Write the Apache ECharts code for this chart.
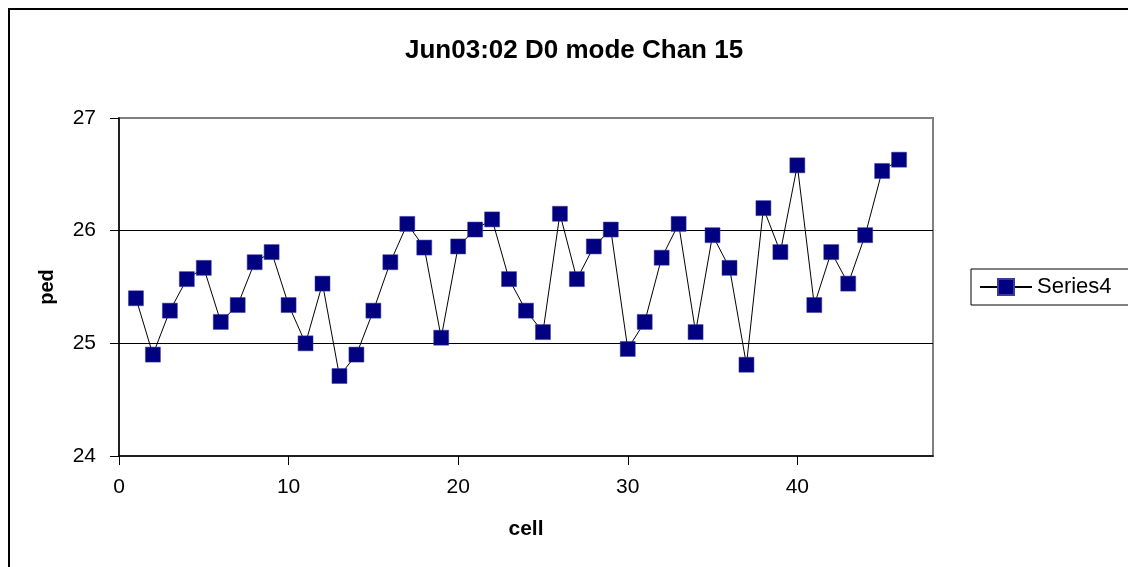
<!DOCTYPE html>
<html>
<head>
<meta charset="utf-8">
<script src="https://cdn.jsdelivr.net/npm/echarts@6/dist/echarts.min.js"></script>
<style>html,body{margin:0;padding:0;background:#fff;}#c{width:1128px;height:567px;}</style>
</head>
<body>
<div id="c"></div>
<script>
const titleText = 'Jun03:02 D0 mode Chan 15';
const seriesName = 'Series4';
const cells = [1,2,3,4,5,6,7,8,9,10,11,12,13,14,15,16,17,18,19,20,21,22,23,24,25,26,27,28,29,30,31,32,33,34,35,36,37,38,39,40,41,42,43,44,45,46];
const ped = [25.40,24.90,25.29,25.57,25.67,25.19,25.34,25.72,25.81,25.34,25.00,25.53,24.71,24.90,25.29,25.72,26.06,25.85,25.05,25.86,26.01,26.10,25.57,25.29,25.10,26.15,25.57,25.86,26.01,24.95,25.19,25.76,26.06,25.10,25.96,25.67,24.81,26.20,25.81,26.58,25.34,25.81,25.53,25.96,26.53,26.63];
const xName = 'cell';
const yName = 'ped';

const chart = echarts.init(document.getElementById('c'), null, {renderer:'canvas'});
const font = '"Liberation Sans", Arial, sans-serif';
chart.setOption({
  animation: false,
  backgroundColor: '#fff',
  textStyle: {fontFamily: font},
  graphic: [{
    type: 'rect', shape: {x: 9, y: 9, width: 1200, height: 700},
    style: {fill: 'none', stroke: '#000', lineWidth: 2}, silent: true, z: -1
  }],
  title: {
    text: titleText, left: 400, top: 33,
    textStyle: {fontFamily: font, fontSize: 26, fontWeight: 'bold', color: '#000'}
  },
  legend: {
    left: 971, top: 269, orient: 'vertical',
    padding: [7, 60, 7, 8],
    borderColor: '#000', borderWidth: 1,
    itemWidth: 52, itemHeight: 20, itemGap: 5,
    textStyle: {fontFamily: font, fontSize: 22, color: '#000'},
    data: [seriesName]
  },
  grid: {
    left: 119, top: 118, width: 814, height: 338,
    show: true, borderColor: '#808080', borderWidth: 2, backgroundColor: '#fff'
  },
  xAxis: {
    type: 'value', min: 0, max: 48, interval: 10,
    name: xName, nameLocation: 'middle', nameGap: 63,
    nameTextStyle: {fontFamily: font, fontSize: 21, fontWeight: 'bold', color: '#000'},
    axisLine: {show: true, lineStyle: {color: '#000', width: 1.5}},
    axisTick: {show: true, length: 9, lineStyle: {color: '#000'}},
    axisLabel: {fontFamily: font, fontSize: 21, color: '#000', margin: 21, showMaxLabel: false,
      formatter: v => (v % 10 === 0 ? String(v) : '')},
    splitLine: {show: false}
  },
  yAxis: {
    type: 'value', min: 24, max: 27, interval: 1,
    name: yName, nameLocation: 'middle', nameGap: 62, nameRotate: 90,
    nameTextStyle: {fontFamily: font, fontSize: 20, fontWeight: 'bold', color: '#000'},
    axisLine: {show: true, lineStyle: {color: '#000', width: 1.5}},
    axisTick: {show: true, length: 9, lineStyle: {color: '#000'}},
    axisLabel: {fontFamily: font, fontSize: 21, color: '#000', margin: 23},
    splitLine: {show: true, showMinLine: false, showMaxLine: false, lineStyle: {color: '#000', width: 1}}
  },
  series: [{
    name: seriesName, type: 'line',
    data: cells.map((c, i) => [c, ped[i]]),
    symbol: 'rect', symbolSize: 15,
    itemStyle: {color: '#000080', borderColor: '#3a3aa0', borderWidth: 0.5},
    lineStyle: {color: '#000', width: 1},
    z: 3
  }]
});
</script>
</body>
</html>
